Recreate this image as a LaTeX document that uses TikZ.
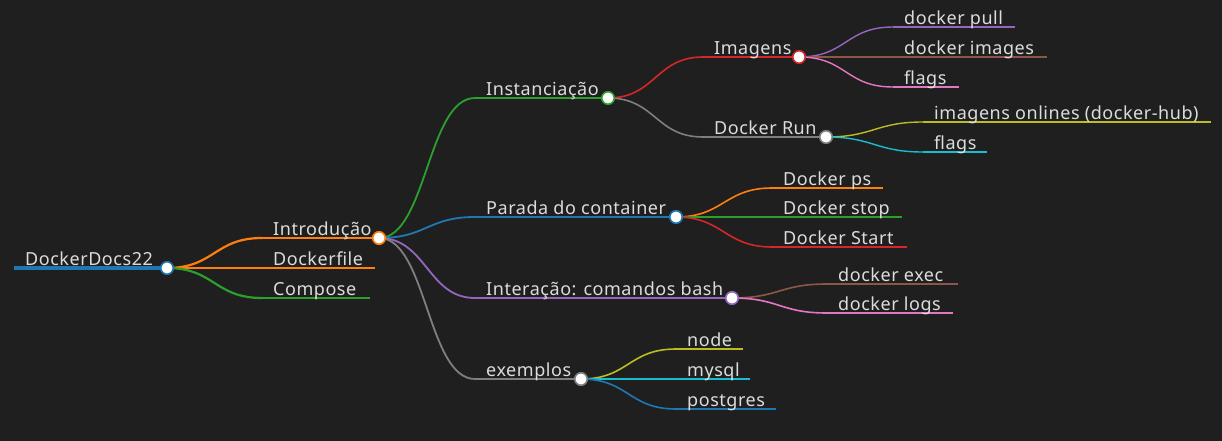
\documentclass[tikz,border=0pt]{standalone}
\usepackage{fontspec}
\setmainfont{Noto Sans}[LetterSpace=3]
\usetikzlibrary{calc}
\definecolor{bg}{HTML}{1F1F1F}
\definecolor{txt}{HTML}{DCDCDC}
\definecolor{cblue}{HTML}{1F77B4}
\definecolor{corange}{HTML}{FF7F0E}
\definecolor{cgreen}{HTML}{2CA02C}
\definecolor{cred}{HTML}{D62728}
\definecolor{cpurple}{HTML}{9467BD}
\definecolor{cbrown}{HTML}{8C564B}
\definecolor{cpink}{HTML}{E377C2}
\definecolor{cgray}{HTML}{7F7F7F}
\definecolor{colive}{HTML}{BCBD22}
\definecolor{ccyan}{HTML}{17BECF}
\tikzset{
  lbl/.style={anchor=base west, inner sep=0pt, text=txt, font=\fontsize{18}{21}\selectfont},
  dot/.style={circle, draw=#1, fill=white, line width=1.6pt, minimum size=12.5pt, inner sep=0pt},
}
% \mmnode{name}{label}{xl}{xr}{y}{color}{width}
\newcommand{\mmnode}[7]{%
  \coordinate (#1-l) at (#3,#5);
  \coordinate (#1-r) at (#4,#5);
  \draw[#6, line width=#7] (#1-l) -- (#1-r);
  \node[lbl] (#1) at ($(#1-l)+(11,-2.5)$) {#2};
}
% \mmlink{parent}{child}{color}{width}
\newcommand{\mmlink}[4]{%
  \draw[#3, line width=#4] (#1-r) .. controls +(47.5,0) and +(-47.5,0) .. (#2-l);
}
\newcommand{\mmdot}[2]{\node[dot=#2] (#1-c) at (#1-r) {};}
\begin{document}
\begin{tikzpicture}[x=1pt,y=-1pt]
\fill[bg] (0,0) rectangle (1222,441);
\useasboundingbox (0,0) rectangle (1222,441);
% nodes
\mmnode{root}{DockerDocs22}{14}{167}{268}{cblue}{3.6pt}
\mmnode{intro}{Introdução}{262}{379}{238}{corange}{2.2pt}
\mmnode{dfile}{Dockerfile}{262}{375}{268}{corange}{2.2pt}
\mmnode{comp}{Compose}{262}{370}{298}{cgreen}{2.2pt}
\mmnode{inst}{Instanciação}{475}{608}{98}{cgreen}{1.8pt}
\mmnode{para}{Parada do container}{475}{676}{217}{cblue}{1.8pt}
\mmnode{inte}{Interação: comandos bash}{475}{732}{298}{cpurple}{1.8pt}
\mmnode{exem}{exemplos}{475}{581}{379}{cgray}{1.8pt}
\mmnode{imag}{Imagens}{703}{799}{57}{cred}{1.6pt}
\mmnode{drun}{Docker Run}{703}{826}{137}{cgray}{1.6pt}
\mmnode{dps}{Docker ps}{772}{883}{188}{corange}{1.6pt}
\mmnode{dstop}{Docker stop}{772}{902}{217}{cgreen}{1.6pt}
\mmnode{dstart}{Docker Start}{772}{907}{247}{cred}{1.6pt}
\mmnode{dexec}{docker exec}{827}{958}{284}{cbrown}{1.6pt}
\mmnode{dlogs}{docker logs}{827}{953}{313}{cpink}{1.6pt}
\mmnode{enode}{node}{676}{743}{349}{colive}{1.6pt}
\mmnode{emysql}{mysql}{676}{750}{379}{ccyan}{1.6pt}
\mmnode{epg}{postgres}{676}{776}{409}{cblue}{1.6pt}
\mmnode{dpull}{docker pull}{893}{1015}{27}{cpurple}{1.4pt}
\mmnode{dimgs}{docker images}{893}{1047}{57}{cbrown}{1.4pt}
\mmnode{iflags}{flags}{893}{959}{87}{cpink}{1.4pt}
\mmnode{honl}{imagens onlines (docker-hub)}{923}{1211}{122}{colive}{1.4pt}
\mmnode{rflags}{flags}{923}{987}{152}{ccyan}{1.4pt}
% links
\mmlink{root}{intro}{corange}{2.2pt}
\mmlink{root}{dfile}{corange}{2.2pt}
\mmlink{root}{comp}{cgreen}{2.2pt}
\mmlink{intro}{inst}{cgreen}{1.8pt}
\mmlink{intro}{para}{cblue}{1.8pt}
\mmlink{intro}{inte}{cpurple}{1.8pt}
\mmlink{intro}{exem}{cgray}{1.8pt}
\mmlink{inst}{imag}{cred}{1.6pt}
\mmlink{inst}{drun}{cgray}{1.6pt}
\mmlink{para}{dps}{corange}{1.6pt}
\mmlink{para}{dstop}{cgreen}{1.6pt}
\mmlink{para}{dstart}{cred}{1.6pt}
\mmlink{inte}{dexec}{cbrown}{1.6pt}
\mmlink{inte}{dlogs}{cpink}{1.6pt}
\mmlink{exem}{enode}{colive}{1.6pt}
\mmlink{exem}{emysql}{ccyan}{1.6pt}
\mmlink{exem}{epg}{cblue}{1.6pt}
\mmlink{imag}{dpull}{cpurple}{1.4pt}
\mmlink{imag}{dimgs}{cbrown}{1.4pt}
\mmlink{imag}{iflags}{cpink}{1.4pt}
\mmlink{drun}{honl}{colive}{1.4pt}
\mmlink{drun}{rflags}{ccyan}{1.4pt}
% circles
\mmdot{root}{cblue}
\mmdot{intro}{corange}
\mmdot{inst}{cgreen}
\mmdot{para}{cblue}
\mmdot{inte}{cpurple}
\mmdot{exem}{cgray}
\mmdot{imag}{cred}
\mmdot{drun}{cgray}
\end{tikzpicture}
\end{document}
